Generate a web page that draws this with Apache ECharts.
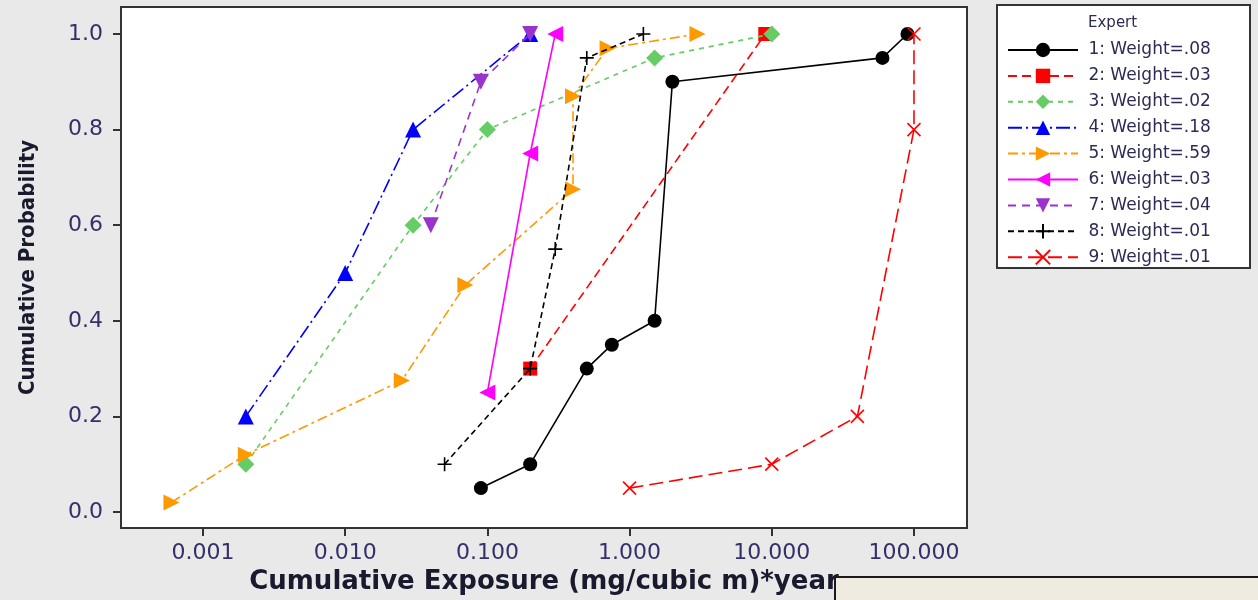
<!DOCTYPE html>
<html>
<head>
<meta charset="utf-8">
<script src="https://cdn.jsdelivr.net/npm/echarts@6/dist/echarts.min.js"></script>
<style>
  html, body { margin: 0; padding: 0; background: #e9e9e9; }
  #main { width: 1258px; height: 600px; }
</style>
</head>
<body>
<div id="main"></div>
<script>
// legend names
var expertNames = [
  '1: Weight=.08', '2: Weight=.03', '3: Weight=.02', '4: Weight=.18', '5: Weight=.59',
  '6: Weight=.03', '7: Weight=.04', '8: Weight=.01', '9: Weight=.01'
];

// [exposure, cumulative probability] per expert
var expert1 = [[0.09, 0.05], [0.2, 0.1], [0.5, 0.3], [0.75, 0.35], [1.5, 0.4], [2, 0.9], [60, 0.95], [90, 1.0]];
var expert2 = [[0.2, 0.3], [9, 1.0]];
var expert3 = [[0.002, 0.1], [0.03, 0.6], [0.1, 0.8], [1.5, 0.95], [10, 1.0]];
var expert4 = [[0.002, 0.2], [0.01, 0.5], [0.03, 0.8], [0.2, 1.0]];
var expert5 = [[0.0006, 0.02], [0.002, 0.12], [0.025, 0.275], [0.07, 0.475], [0.4, 0.675], [0.4, 0.87], [0.7, 0.97], [3, 1.0]];
var expert6 = [[0.1, 0.25], [0.2, 0.75], [0.3, 1.0]];
var expert7 = [[0.04, 0.6], [0.09, 0.9], [0.2, 1.0]];
var expert8 = [[0.05, 0.1], [0.2, 0.3], [0.3, 0.55], [0.5, 0.95], [1.25, 1.0]];
var expert9 = [[1, 0.05], [10, 0.1], [40, 0.2], [100, 0.8], [100, 1.0]];

var xTicks = [0.001, 0.01, 0.1, 1, 10, 100];
var yTicks = [0, 0.2, 0.4, 0.6, 0.8, 1.0];

var allData = [expert1, expert2, expert3, expert4, expert5, expert6, expert7, expert8, expert9];

var plusPath = 'path://M5,0L5,10M0,5L10,5';
var crossPath = 'path://M0,0L10,10M10,0L0,10';

// look of each expert line
var looks = [
  { color: '#000000', dash: 'solid', symbol: 'circle', size: 14, rot: 0 },
  { color: '#ff0000', dash: [9, 5], symbol: 'rect', size: 14, rot: 0 },
  { color: '#66cc66', dash: [5, 5], symbol: 'diamond', size: 17, rot: 0 },
  { color: '#0000ff', dash: [14, 4, 2, 4], symbol: 'triangle', size: 16, rot: 0 },
  { color: '#ff9900', dash: [10, 4, 3, 4], symbol: 'triangle', size: 16, rot: -90 },
  { color: '#ff00ff', dash: 'solid', symbol: 'triangle', size: 16, rot: 90 },
  { color: '#9933cc', dash: [8, 6], symbol: 'triangle', size: 16, rot: 180 },
  { color: '#000000', dash: [6, 4], symbol: plusPath, size: 14, rot: 0 },
  { color: '#ff0000', dash: [14, 6], symbol: crossPath, size: 13, rot: 0 }
];

var series = allData.map(function (d, i) {
  var lk = looks[i];
  var stroked = lk.symbol === plusPath || lk.symbol === crossPath;
  return {
    name: expertNames[i],
    type: 'line',
    data: d,
    symbol: lk.symbol,
    symbolSize: lk.size,
    symbolRotate: lk.rot,
    showAllSymbol: true,
    lineStyle: { color: lk.color, width: 1.6, type: lk.dash },
    itemStyle: stroked
      ? { color: lk.color, borderColor: lk.color, borderWidth: 1.6 }
      : { color: lk.color, borderWidth: 0 },
    emphasis: { disabled: true },
    z: 2 + i
  };
});

var labelColor = '#35306a';
var Chart = echarts.init(document.getElementById('main'));

var option = {
  animation: false,
  backgroundColor: '#e9e9e9',
  title: {
    text: 'Expert',
    left: 1088,
    top: 16,
    padding: 0,
    textStyle: { fontSize: 15, fontWeight: 'normal', color: '#2b2b55', fontFamily: 'DejaVu Sans' }
  },
  grid: {
    left: 121, right: 291, top: 7, bottom: 72,
    show: true,
    backgroundColor: '#ffffff',
    borderColor: '#333333',
    borderWidth: 2
  },
  legend: {
    orient: 'vertical',
    left: 997,
    top: 5,
    padding: [36, 10, 4, 10],
    itemWidth: 70,
    itemHeight: 18,
    itemGap: 7.9,
    formatter: function (n) { return ' ' + n; },
    textStyle: { fontSize: 17, color: '#2b2b55', fontFamily: 'DejaVu Sans', lineHeight: 18 },
    data: expertNames
  },
  xAxis: {
    type: 'log',
    logBase: 10,
    min: 0.000265,
    max: 236,
    name: 'Cumulative Exposure (mg/cubic m)*year',
    nameLocation: 'middle',
    nameGap: 40,
    nameTextStyle: { fontSize: 26, fontWeight: 'bold', color: '#1a1a2e', fontFamily: 'DejaVu Sans' },
    axisLine: { show: true, onZero: false, lineStyle: { color: '#333333', width: 2 } },
    axisTick: { show: true, length: 8, customValues: xTicks, lineStyle: { color: '#333333', width: 2 } },
    axisLabel: {
      customValues: xTicks,
      margin: 14,
      fontSize: 22,
      color: labelColor,
      fontFamily: 'DejaVu Sans',
      formatter: function (v) { return Number(v).toFixed(3); }
    },
    splitLine: { show: false },
    minorTick: { show: false }
  },
  yAxis: {
    type: 'value',
    min: -0.0335,
    max: 1.0565,
    name: 'Cumulative Probability',
    nameLocation: 'middle',
    nameGap: 82,
    nameTextStyle: { fontSize: 22, fontWeight: 'bold', color: '#1a1a2e', fontFamily: '"DejaVu Sans Condensed", "Liberation Sans Narrow", "DejaVu Sans"' },
    axisLine: { show: true, onZero: false, lineStyle: { color: '#333333', width: 2 } },
    axisTick: { show: true, length: 8, customValues: yTicks, lineStyle: { color: '#333333', width: 2 } },
    axisLabel: {
      customValues: yTicks,
      margin: 18,
      fontSize: 22,
      color: labelColor,
      fontFamily: 'DejaVu Sans',
      formatter: function (v) { return Number(v).toFixed(1); }
    },
    splitLine: { show: false }
  },
  graphic: [
    {
      type: 'rect',
      z: 0,
      shape: { x: 997, y: 5, width: 253, height: 263 },
      style: { fill: '#ffffff', stroke: '#333333', lineWidth: 2 }
    },
    {
      type: 'rect',
      z: 100,
      shape: { x: 835, y: 577, width: 440, height: 40 },
      style: { fill: '#f0ebe0', stroke: '#1a1a1a', lineWidth: 2 }
    }
  ],
  series: series
};

Chart.setOption(option);
</script>
</body>
</html>
